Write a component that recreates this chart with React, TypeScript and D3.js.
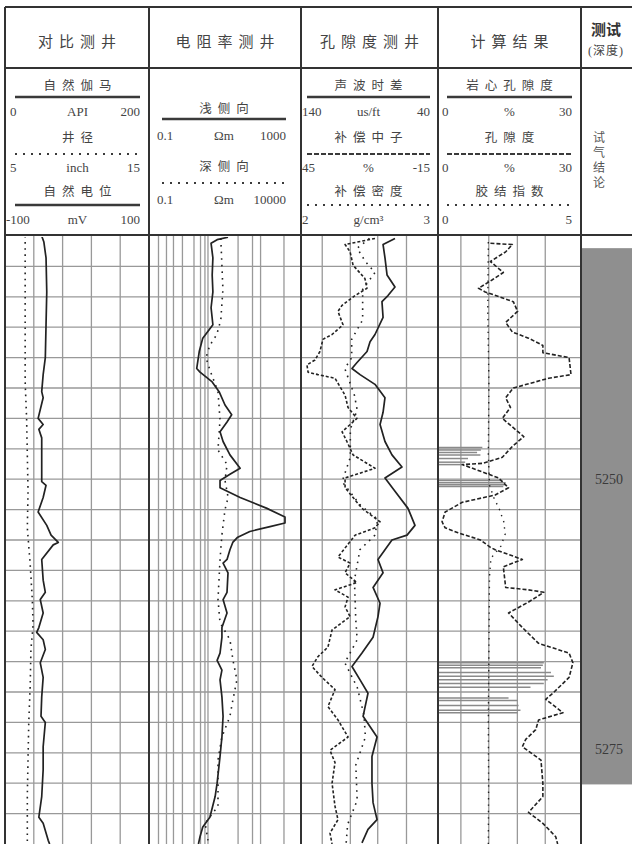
import React from "react";
import * as d3 from "d3";

// depth window of the plot (m)
const depthTop = 5230;
const depthBottom = 5280;

// headers
const trackTitles = ["对比测井", "电阻率测井", "孔隙度测井", "计算结果"];
const legendNames = [
  ["自然伽马", "井径", "自然电位"],
  ["浅侧向", "深侧向"],
  ["声波时差", "补偿中子", "补偿密度"],
  ["岩心孔隙度", "孔隙度", "胶结指数"],
];
const legendScales = [
  [["0", "API", "200"], ["5", "inch", "15"], ["-100", "mV", "100"]],
  [["0.1", "Ωm", "1000"], ["0.1", "Ωm", "10000"]],
  [["140", "us/ft", "40"], ["45", "%", "-15"], ["2", "g/cm³", "3"]],
  [["0", "%", "30"], ["0", "%", "30"], ["0", "", "5"]],
];
const legendStyles = [
  ["solid", "dot", "solid"],
  ["solid", "dot"],
  ["solid", "dash", "dot"],
  ["solid", "dash", "dot"],
];
const testTitle = "测试";
const testSub = "(深度)";
const testLabel = ["试", "气", "结", "论"];

// track 1: gamma ray (API) and caliper (inch)
const grDepth = [5230.0, 5230.5, 5231.8, 5234.6, 5237.3, 5240.0, 5241.4, 5242.8, 5243.3, 5245.0, 5245.5, 5245.9, 5246.6, 5248.2, 5250.2, 5250.5, 5251.5, 5252.7, 5253.8, 5254.6, 5255.2, 5255.4, 5256.6, 5258.3, 5259.3, 5259.9, 5261.0, 5262.2, 5262.6, 5263.2, 5264.0, 5265.1, 5266.3, 5267.9, 5269.5, 5270.0, 5272.0, 5273.9, 5276.1, 5277.8, 5278.3, 5279.7, 5280.0];
const grApi = [51, 54, 57, 58, 57, 56, 53, 51, 53, 46, 53, 47, 51, 51, 51, 57, 53, 46, 58, 64, 74, 67, 51, 53, 56, 49, 53, 47, 44, 53, 56, 49, 53, 51, 50, 56, 53, 53, 51, 47, 53, 60, 62];
const calDepth = [5230, 5236, 5242, 5245, 5248, 5251, 5254, 5257, 5260, 5262, 5264, 5267, 5270, 5273, 5276, 5280];
const calInch = [6.4, 6.4, 6.4, 6.5, 6.55, 6.6, 6.55, 6.75, 6.9, 6.95, 6.8, 6.75, 6.65, 6.6, 6.55, 6.55];

// track 2: shallow / deep laterolog (ohm.m)
const llsDepth = [5230.1, 5230.3, 5230.6, 5231.8, 5233.2, 5234.6, 5235.9, 5237.3, 5238.4, 5239.5, 5240.9, 5241.2, 5242.0, 5242.8, 5243.9, 5244.7, 5245.3, 5246.1, 5246.9, 5248.0, 5249.1, 5249.6, 5250.1, 5250.7, 5251.5, 5252.4, 5253.1, 5253.6, 5253.9, 5254.3, 5254.8, 5255.2, 5255.8, 5256.6, 5256.9, 5257.7, 5259.3, 5259.9, 5261.0, 5262.2, 5263.0, 5264.3, 5264.9, 5265.7, 5266.5, 5267.9, 5269.5, 5271.2, 5272.8, 5275.0, 5276.1, 5277.8, 5278.6, 5279.4, 5280.0];
const llsOhm = [12, 6.2, 4.3, 4.8, 4.6, 4.8, 4.3, 4.8, 2.6, 2.1, 1.8, 2.2, 4.6, 7.0, 10, 15, 11.3, 7.4, 8.9, 13.5, 25, 13.5, 7.4, 7.4, 25, 127, 379, 379, 153, 45, 21, 16, 13.5, 11.3, 8.9, 12, 11.3, 8.9, 11.3, 8.3, 8.3, 7.4, 6.2, 8.3, 7.4, 8.3, 8.9, 8.3, 7.4, 6.2, 5.5, 4.0, 2.6, 2.2, 2.0];
const lldDepth = [5230.2, 5232.4, 5234.4, 5236.9, 5238.1, 5239.0, 5240.0, 5241.0, 5242.8, 5245.1, 5247.6, 5248.8, 5250.1, 5251.5, 5252.5, 5254.6, 5256.6, 5259.9, 5261.8, 5263.2, 5264.9, 5266.5, 5268.1, 5269.5, 5271.2, 5273.1, 5275.5, 5276.9, 5278.3, 5279.7];
const lldOhm = [23, 25, 27, 23, 17, 10, 7.5, 10, 18.6, 21.7, 18.6, 37, 31.6, 40, 31.6, 25, 21.7, 18.6, 21.7, 46, 58, 78, 58, 46, 25, 18.6, 18.6, 18.6, 7, 8.7];

// track 3: sonic (us/ft), neutron (%), density (g/cm3)
const acDepth = [5230.2, 5230.7, 5231.8, 5233.2, 5234.2, 5234.9, 5235.4, 5236.7, 5238.1, 5238.7, 5239.5, 5240.4, 5240.9, 5241.4, 5242.2, 5243.3, 5244.5, 5245.5, 5246.9, 5248.0, 5249.0, 5249.9, 5251.0, 5252.4, 5253.8, 5254.6, 5255.0, 5256.6, 5257.7, 5258.9, 5260.2, 5261.3, 5263.0, 5264.3, 5265.4, 5266.5, 5267.6, 5269.5, 5271.2, 5272.8, 5275.0, 5276.6, 5278.0, 5278.8, 5279.9];
const acUs = [71.4, 80.1, 78.7, 77.2, 71.4, 76.5, 80.9, 80.1, 86, 89.6, 91.8, 99.1, 102.8, 96.9, 86, 78.7, 80.1, 82.3, 78.7, 73.6, 66.3, 78.7, 71.4, 61.9, 56.8, 62.6, 73.6, 83.8, 80.1, 87.4, 82.3, 83.8, 87.4, 95.5, 102.8, 96.9, 91.1, 94.7, 84.5, 88.2, 88.2, 87.4, 84.5, 91.1, 95.5];
const cnlDepth = [5230.2, 5230.7, 5231.3, 5232.4, 5233.5, 5234.3, 5234.9, 5235.7, 5236.2, 5237.3, 5238.1, 5238.5, 5239.5, 5240.2, 5240.6, 5241.2, 5241.4, 5241.7, 5243.1, 5244.1, 5245.0, 5246.1, 5246.9, 5248.0, 5249.1, 5249.9, 5250.7, 5252.4, 5253.5, 5254.0, 5254.6, 5256.4, 5256.9, 5257.7, 5258.5, 5259.1, 5259.7, 5260.5, 5261.3, 5262.4, 5263.8, 5264.6, 5265.4, 5266.3, 5267.3, 5268.7, 5269.8, 5271.2, 5272.3, 5273.3, 5275.0, 5276.9, 5278.0, 5279.1, 5280.0];
const cnlPct = [12.6, 25.7, 23.5, 22.2, 17.0, 16.1, 21.3, 27.0, 28.8, 26.6, 31.4, 35.4, 36.7, 38.9, 42.4, 41.9, 37.6, 30.1, 25.7, 24.4, 20.5, 27.0, 24.9, 22.2, 12.6, 25.7, 25.7, 18.3, 10.4, 12.6, 21.3, 28.8, 23.5, 25.7, 20.5, 30.1, 24.4, 25.7, 23.5, 31.4, 33.2, 37.6, 40.2, 35.8, 30.1, 33.2, 28.8, 24.4, 32.3, 30.1, 31.4, 30.1, 28.8, 32.3, 31.4];
const denDepth = [5230.2, 5231.0, 5232.1, 5233.0, 5234.4, 5236.9, 5238.5, 5240.0, 5240.9, 5243.1, 5244.3, 5245.9, 5248.2, 5250.2, 5252.1, 5253.3, 5254.6, 5255.8, 5258.3, 5261.6, 5263.2, 5265.1, 5267.1, 5269.4, 5271.2, 5273.5, 5276.4, 5278.4, 5279.9];
const denG = [2.50, 2.41, 2.47, 2.54, 2.45, 2.45, 2.37, 2.37, 2.32, 2.39, 2.41, 2.36, 2.36, 2.30, 2.43, 2.56, 2.54, 2.43, 2.39, 2.40, 2.41, 2.32, 2.41, 2.46, 2.47, 2.40, 2.41, 2.34, 2.33];

// track 4: computed porosity (%), cementation index, core porosity (%)
const porDepth = [5230.6, 5230.7, 5231.3, 5232.1, 5233.0, 5233.6, 5234.3, 5234.6, 5235.4, 5236.2, 5237.1, 5237.9, 5238.4, 5239.0, 5239.6, 5240.0, 5241.4, 5241.7, 5242.5, 5243.3, 5244.1, 5245.0, 5246.5, 5247.3, 5248.2, 5248.7, 5248.8, 5249.4, 5249.9, 5250.7, 5251.3, 5251.9, 5252.7, 5253.5, 5254.0, 5254.4, 5255.0, 5255.6, 5255.8, 5256.6, 5257.2, 5258.9, 5259.1, 5259.3, 5260.1, 5261.0, 5262.2, 5263.5, 5264.3, 5265.1, 5266.3, 5267.6, 5268.1, 5269.2, 5269.8, 5270.6, 5271.4, 5272.0, 5273.1, 5275.0, 5276.1, 5277.4, 5278.3, 5279.4, 5280.0];
const porPct = [11.0, 15.6, 14.2, 11.0, 13.7, 11.4, 8.5, 9.9, 15.8, 16.7, 14.2, 15.6, 19.0, 22.0, 22.0, 27.5, 27.9, 23.2, 15.8, 14.2, 15.2, 13.5, 18.0, 15.6, 13.5, 9.3, 5.1, 9.3, 12.7, 14.8, 12.0, 5.1, 1.5, 0.85, 1.5, 4.2, 8.9, 11.0, 12.0, 17.7, 13.7, 14.2, 19.0, 22.2, 19.0, 14.8, 17.7, 21.1, 27.5, 28.3, 27.5, 24.1, 22.6, 26.2, 21.1, 20.5, 18.4, 17.7, 21.6, 22.0, 22.0, 19.0, 22.0, 24.7, 25.1];
const cemDepth = [5230.5, 5236, 5242, 5248, 5250.5, 5251.5, 5252.5, 5253.5, 5254.5, 5255.5, 5256.5, 5258, 5264, 5270, 5275, 5280];
const cemIdx = [1.76, 1.74, 1.78, 1.76, 1.8, 1.95, 2.15, 2.3, 2.35, 2.2, 1.85, 1.8, 1.78, 1.76, 1.77, 1.76];
const coreDepth = [5247.4, 5247.6, 5247.8, 5248.0, 5248.3, 5248.6, 5248.8, 5250.1, 5250.3, 5250.45, 5250.6, 5265.1, 5265.3, 5265.5, 5265.9, 5266.2, 5266.5, 5266.8, 5267.1, 5268.0, 5268.2, 5268.6, 5269.0, 5269.2];
const corePct = [9.3, 9.0, 8.2, 8.9, 6.3, 5.7, 5.1, 13.5, 14.2, 14.0, 13.7, 22.2, 22.0, 21.6, 23.7, 24.3, 23.0, 22.2, 19.4, 14.8, 16.7, 16.9, 17.3, 16.7];

// track 5: gas test interval and its depth annotations
// (labels sit where the picture puts them on the grid's depth scale)
const testInterval = [5231.0, 5275.1];
const depthLabels = ["5250", "5275"];
const depthLabelAt = [5250.0, 5272.2];

// layout
const W = 632;
const H = 844;
const top = 7;
const headSplit = 68;
const bodyTop = 236;
const edges = [5, 149, 301, 438, 581];
const gridFrac = [
  [0.2, 0.4, 0.6, 0.8],
  [0.0625, 0.115, 0.161, 0.22, 0.296, 0.339, 0.368, 0.388, 0.586, 0.681, 0.734, 0.888],
  [0.155, 0.36, 0.56, 0.77],
  [0.16, 0.355, 0.555, 0.75],
];
const legendPad = [
  [15, 140],
  [162, 286],
  [307, 430],
  [447, 572],
];
const legendRows3 = { name: [86, 138, 192], line: [97, 154, 205], scale: [111, 167, 219] };
const legendRows2 = { name: [109, 167], line: [119, 183], scale: [135, 199] };

const font = "'Liberation Serif', 'Noto Sans CJK SC', serif";
const ink = "#333";
const grid = "#999";

const dashFor = (s: string, head: boolean) =>
  s === "dot" ? (head ? "2 6" : "1.6 4") : s === "dash" ? (head ? "5 2" : "4 2") : undefined;

const App = () => {
  const y = d3.scaleLinear().domain([depthTop, depthBottom]).range([bodyTop, H]);

  const grX = d3.scaleLinear().domain([0, 200]).range([edges[0], edges[1]]);
  const calX = d3.scaleLinear().domain([5, 15]).range([edges[0], edges[1]]);
  const llsX = d3.scaleLog().domain([0.1, 1000]).range([edges[1], edges[2]]);
  const lldX = d3.scaleLog().domain([0.1, 10000]).range([edges[1], edges[2]]);
  const acX = d3.scaleLinear().domain([140, 40]).range([edges[2], edges[3]]);
  const cnlX = d3.scaleLinear().domain([45, -15]).range([edges[2], edges[3]]);
  const denX = d3.scaleLinear().domain([2, 3]).range([edges[2], edges[3]]);
  const porX = d3.scaleLinear().domain([0, 30]).range([edges[3], edges[4]]);
  const cemX = d3.scaleLinear().domain([0, 5]).range([edges[3], edges[4]]);

  const path = (ds: number[], vs: number[], sx: (v: number) => number) =>
    d3
      .line<[number, number]>()
      .x((p) => sx(p[1]))
      .y((p) => y(p[0]))(d3.zip(ds, vs) as [number, number][]) || "";

  const curves = [
    { t: 0, d: path(calDepth, calInch, calX), dash: "1.6 4.5", w: 1.6 },
    { t: 0, d: path(grDepth, grApi, grX), dash: undefined, w: 1.7 },
    { t: 1, d: path(lldDepth, lldOhm, lldX), dash: "1.6 5", w: 1.6 },
    { t: 1, d: path(llsDepth, llsOhm, llsX), dash: undefined, w: 1.7 },
    { t: 2, d: path(denDepth, denG, denX), dash: "1.6 5", w: 1.6 },
    { t: 2, d: path(cnlDepth, cnlPct, cnlX), dash: "3 2", w: 1.6 },
    { t: 2, d: path(acDepth, acUs, acX), dash: undefined, w: 1.7 },
    { t: 3, d: path(cemDepth, cemIdx, cemX), dash: "1.4 5", w: 1.4 },
    { t: 3, d: path(porDepth, porPct, porX), dash: "4 2", w: 1.6 },
  ];

  const gridDepths = d3.range(depthTop + 2.5, depthBottom, 2.5);

  return (
    <svg
      width={W}
      height={H}
      style={{ position: "absolute", left: 0, top: 0, background: "#fff" }}
      fontFamily={font}
    >
      <defs>
        {edges.slice(0, 4).map((x0, i) => (
          <clipPath id={`trk${i}`} key={i}>
            <rect x={x0 + 1} y={bodyTop + 1} width={edges[i + 1] - x0 - 2} height={H - bodyTop} />
          </clipPath>
        ))}
      </defs>

      {/* body grid */}
      <g stroke={grid} strokeWidth={1.3}>
        {gridDepths.map((d) => (
          <line key={d} x1={edges[0]} x2={edges[4]} y1={y(d)} y2={y(d)} />
        ))}
        {gridFrac.map((fr, i) => {
          const sx = d3.scaleLinear().domain([0, 1]).range([edges[i], edges[i + 1]]);
          return fr.map((f) => <line key={`${i}-${f}`} x1={sx(f)} x2={sx(f)} y1={bodyTop} y2={H} />);
        })}
      </g>

      {/* test interval */}
      <rect
        x={edges[4] + 1}
        y={y(testInterval[0])}
        width={W - edges[4]}
        height={y(testInterval[1]) - y(testInterval[0])}
        fill="#8f8f8f"
      />
      {depthLabels.map((t, i) => (
        <text
          key={t}
          x={609}
          y={y(depthLabelAt[i])}
          fontSize={14}
          fill="#3a3a3a"
          textAnchor="middle"
          dominantBaseline="central"
        >
          {t}
        </text>
      ))}

      {/* core porosity bars */}
      <g clipPath="url(#trk3)" stroke="#8a8a8a" strokeWidth={1.5}>
        {coreDepth.map((d, i) => (
          <line key={d} x1={porX(0)} x2={porX(corePct[i])} y1={y(d)} y2={y(d)} />
        ))}
      </g>

      {/* curves */}
      {curves.map((c, i) => (
        <path
          key={i}
          d={c.d}
          clipPath={`url(#trk${c.t})`}
          fill="none"
          stroke="#222"
          strokeWidth={c.w}
          strokeDasharray={c.dash}
          strokeLinejoin="round"
        />
      ))}

      {/* frame */}
      <g stroke={ink} strokeWidth={2}>
        <line x1={edges[0]} x2={W} y1={top} y2={top} />
        <line x1={edges[0]} x2={W} y1={headSplit} y2={headSplit} />
        <line x1={edges[0]} x2={W} y1={bodyTop - 1} y2={bodyTop - 1} />
        {edges.map((x) => (
          <line key={x} x1={x} x2={x} y1={top} y2={H} />
        ))}
      </g>

      {/* headers */}
      {trackTitles.map((t, i) => (
        <text
          key={t}
          x={(edges[i] + edges[i + 1]) / 2 + 3}
          y={42}
          fontSize={15}
          letterSpacing={6}
          fill="#444"
          textAnchor="middle"
          dominantBaseline="central"
        >
          {t}
        </text>
      ))}
      <text x={606} y={30} fontSize={15} fill="#333" textAnchor="middle" dominantBaseline="central" fontWeight={600}>
        {testTitle}
      </text>
      <text x={588} y={51} fontSize={12} letterSpacing={1} fill="#444" dominantBaseline="central">
        {testSub}
      </text>
      {testLabel.map((c, i) => (
        <text key={c} x={599} y={138 + i * 15} fontSize={12} fill="#555" textAnchor="middle" dominantBaseline="central">
          {c}
        </text>
      ))}

      {legendNames.map((names, i) => {
        const rows = names.length === 3 ? legendRows3 : legendRows2;
        const [lx0, lx1] = legendPad[i];
        const mid = (lx0 + lx1) / 2;
        return (
          <g key={i} fill="#444">
            {names.map((n, j) => {
              const [a, u, b] = legendScales[i][j];
              const st = legendStyles[i][j];
              return (
                <g key={n}>
                  <text
                    x={mid + 3}
                    y={rows.name[j]}
                    fontSize={12.5}
                    letterSpacing={6}
                    textAnchor="middle"
                    dominantBaseline="central"
                  >
                    {n}
                  </text>
                  <line
                    x1={lx0}
                    x2={lx1}
                    y1={rows.line[j]}
                    y2={rows.line[j]}
                    stroke="#3a3a3a"
                    strokeWidth={st === "solid" ? 2.6 : 2}
                    strokeDasharray={dashFor(st, true)}
                  />
                  <text x={a.startsWith("-") ? lx0 - 9 : lx0 - 5} y={rows.scale[j]} fontSize={13} dominantBaseline="central">
                    {a}
                  </text>
                  <text x={mid} y={rows.scale[j]} fontSize={13} textAnchor="middle" dominantBaseline="central">
                    {u}
                  </text>
                  <text x={lx1} y={rows.scale[j]} fontSize={13} textAnchor="end" dominantBaseline="central">
                    {b}
                  </text>
                </g>
              );
            })}
          </g>
        );
      })}
    </svg>
  );
};

export default App;
